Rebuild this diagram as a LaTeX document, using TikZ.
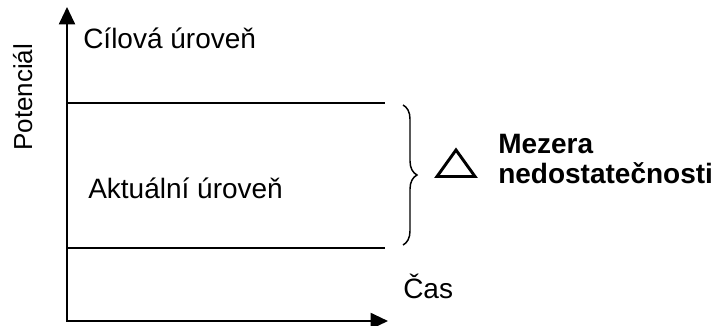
\documentclass[tikz,border=0pt]{standalone}
\usepackage{fontspec}
\setmainfont{Liberation Sans}
\usetikzlibrary{arrows.meta,decorations.pathreplacing}
\begin{document}
\begin{tikzpicture}[x=0.75pt, y=-0.75pt,
        axes/.style={line width=1.5pt, {Triangle[length=13pt,width=12pt]}-{Triangle[length=13pt,width=12pt]}},
        gapline/.style={line width=1.5pt},
        txt/.style={inner sep=0pt, anchor=base west, font=\fontsize{21}{24}\selectfont}]
        \useasboundingbox (0,0) rectangle (713,325);

        % axes
        \coordinate (ytop) at (67,7);
        \coordinate (o) at (67,321);
        \coordinate (xend) at (388,321);
        \draw[axes] (ytop) -- (o) -- (xend);

        % target and current level
        \coordinate (c1) at (67,103);
        \coordinate (c2) at (385,103);
        \coordinate (a1) at (67,248);
        \coordinate (a2) at (385,248);
        \draw[gapline] (c1) -- (c2);
        \draw[gapline] (a1) -- (a2);

        \node[txt] (cil) at (83,48) {Cílová úroveň};
        \node[txt] (akt) at (88,198) {Aktuální úroveň};
        \node[txt] (cas) at (403,298) {Čas};
        \node[txt, rotate=90, font=\fontsize{19.5}{22}\selectfont] (pot) at (32,151) {Potenciál};

        % gap
        \coordinate (b1) at (403,105);
        \coordinate (b2) at (403,245);
        \draw[line width=1.1pt, decorate, decoration={brace, amplitude=10.5pt}] (b1) -- (b2);

        \coordinate (d1) at (437,176.5);
        \coordinate (d2) at (475,176.5);
        \coordinate (d3) at (456,150);
        \draw[line width=2.2pt, line join=miter] (d1) -- (d2) -- (d3) -- cycle;

        \node[txt, font=\fontsize{21}{24}\selectfont\bfseries] (mez) at (498,153) {Mezera};
        \node[txt, font=\fontsize{21}{24}\selectfont\bfseries] (ned) at (498,183) {nedostatečnosti};
\end{tikzpicture}
\end{document}
